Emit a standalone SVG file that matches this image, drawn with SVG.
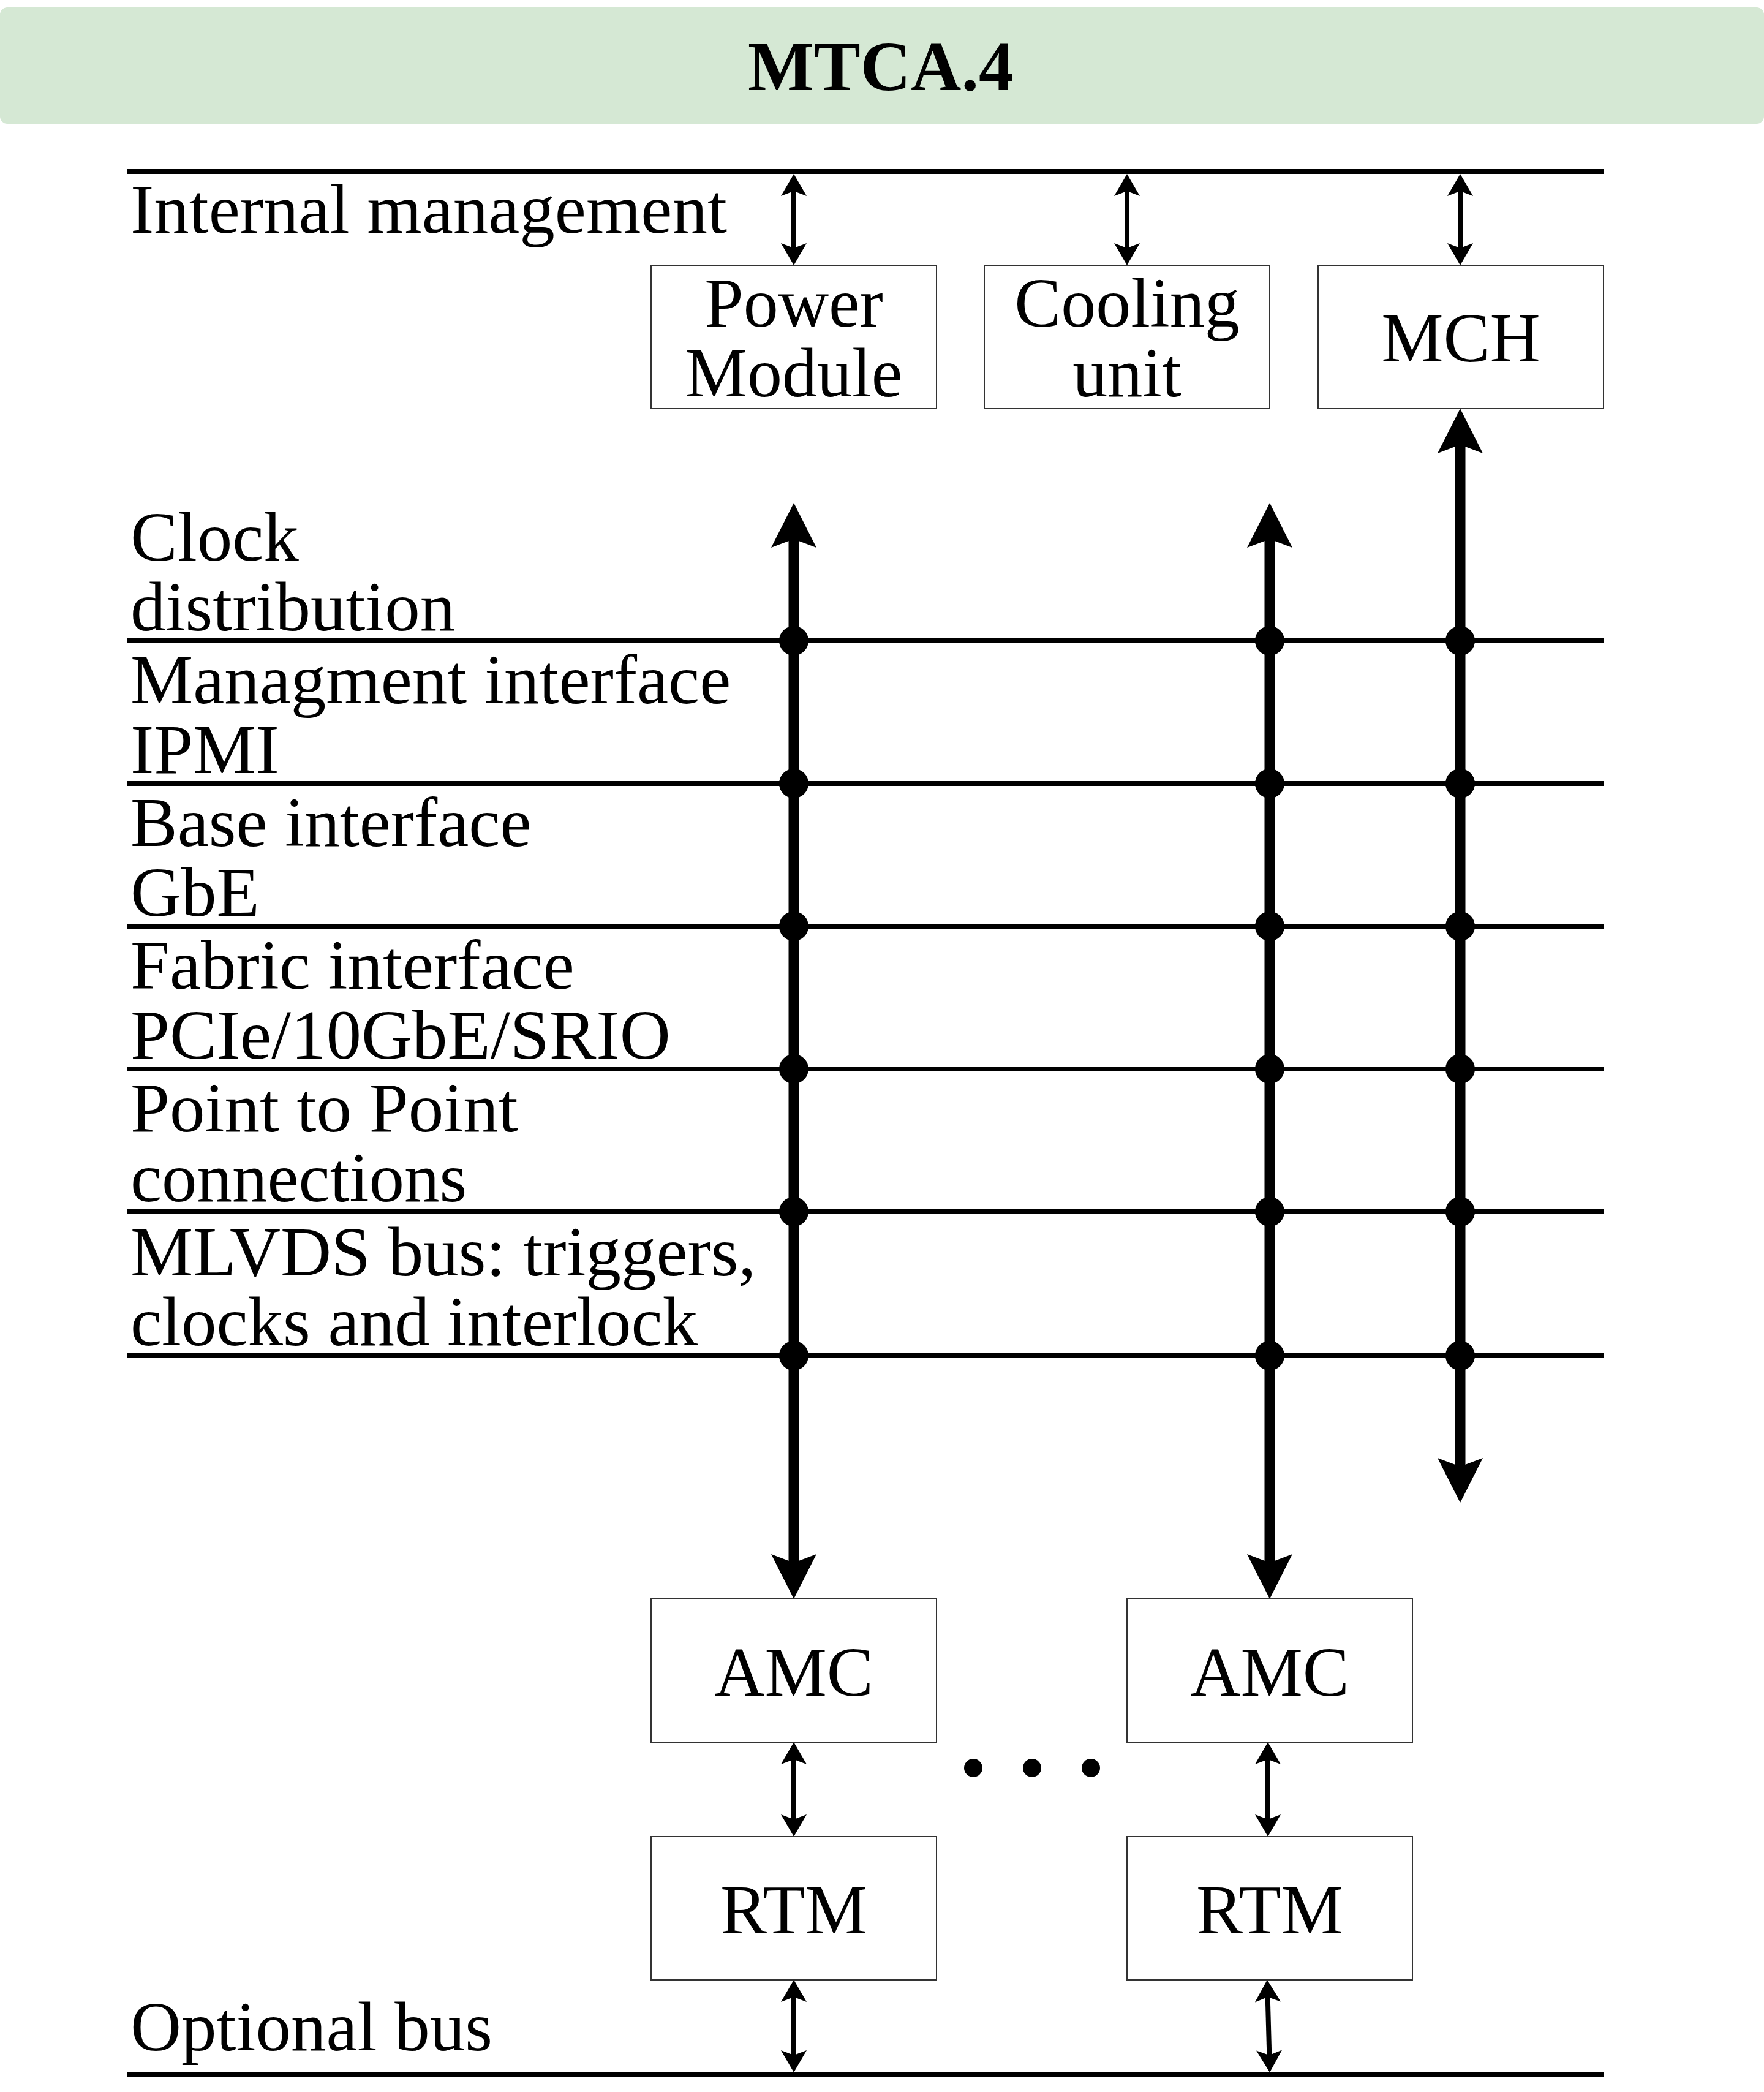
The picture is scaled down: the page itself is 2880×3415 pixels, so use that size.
<svg xmlns="http://www.w3.org/2000/svg" width="2880" height="3415" viewBox="0 0 2880 3415">
<defs>
<style>
text{font-family:"Liberation Serif","Times New Roman",serif;font-size:114px;fill:#000}
.lbl{font-size:115px}
.ctr{text-anchor:middle}
.box{fill:#fff;stroke:#333;stroke-width:2}
.bus{stroke:#000;stroke-width:8;fill:none}
.thin{stroke:#000;stroke-width:8;fill:none;marker-start:url(#ah);marker-end:url(#ah)}
.thick{stroke:#000;stroke-width:17;fill:none;marker-start:url(#ahT);marker-end:url(#ahT)}
.dot{fill:#000}
</style>
<marker id="ah" markerUnits="userSpaceOnUse" viewBox="-2 -22 40 44" markerWidth="40" markerHeight="44" refX="8" refY="0" orient="auto-start-reverse">
<path d="M0,-21 L36,0 L0,21 L8,0 Z" fill="#000"/>
</marker>
<marker id="ahT" markerUnits="userSpaceOnUse" viewBox="-2 -38 78 76" markerWidth="78" markerHeight="76" refX="14" refY="0" orient="auto-start-reverse">
<path d="M0,-37 L73,0 L0,37 L14,0 Z" fill="#000"/>
</marker>
</defs>
<rect width="2880" height="3415" fill="#fff"/>
<g id="header">
<rect x="0" y="12" width="2880" height="190" rx="12" ry="12" fill="#d5e8d4"/>
<text x="1438" y="147" class="ctr" font-weight="bold" style="font-size:114px">MTCA.4</text>
</g>
<g id="connectors">
<line class="bus" x1="208" y1="280" x2="2618" y2="280"/>
<line class="bus" x1="208" y1="1046" x2="2618" y2="1046"/>
<line class="bus" x1="208" y1="1279" x2="2618" y2="1279"/>
<line class="bus" x1="208" y1="1512" x2="2618" y2="1512"/>
<line class="bus" x1="208" y1="1745" x2="2618" y2="1745"/>
<line class="bus" x1="208" y1="1978" x2="2618" y2="1978"/>
<line class="bus" x1="208" y1="2213" x2="2618" y2="2213"/>
<line class="bus" x1="208" y1="3387" x2="2618" y2="3387"/>
<line class="thin" x1="1296" y1="312" x2="1296" y2="405"/>
<line class="thin" x1="1840" y1="312" x2="1840" y2="405"/>
<line class="thin" x1="2384" y1="312" x2="2384" y2="405"/>
<line class="thin" x1="1296" y1="2872" x2="1296" y2="2970"/>
<line class="thin" x1="2070" y1="2872" x2="2070" y2="2970"/>
<line class="thin" x1="1296" y1="3260" x2="1296" y2="3355"/>
<line class="thin" x1="2069.7" y1="3260" x2="2072.3" y2="3355"/>
<line class="thick" x1="1296" y1="880" x2="1296" y2="2551"/>
<line class="thick" x1="2073" y1="880" x2="2073" y2="2551"/>
<line class="thick" x1="2384" y1="726" x2="2384" y2="2394"/>
<g id="junctions">
<circle class="dot" cx="1296" cy="1046" r="24"/><circle class="dot" cx="2073" cy="1046" r="24"/><circle class="dot" cx="2384" cy="1046" r="24"/>
<circle class="dot" cx="1296" cy="1279" r="24"/><circle class="dot" cx="2073" cy="1279" r="24"/><circle class="dot" cx="2384" cy="1279" r="24"/>
<circle class="dot" cx="1296" cy="1512" r="24"/><circle class="dot" cx="2073" cy="1512" r="24"/><circle class="dot" cx="2384" cy="1512" r="24"/>
<circle class="dot" cx="1296" cy="1745" r="24"/><circle class="dot" cx="2073" cy="1745" r="24"/><circle class="dot" cx="2384" cy="1745" r="24"/>
<circle class="dot" cx="1296" cy="1978" r="24"/><circle class="dot" cx="2073" cy="1978" r="24"/><circle class="dot" cx="2384" cy="1978" r="24"/>
<circle class="dot" cx="1296" cy="2213" r="24"/><circle class="dot" cx="2073" cy="2213" r="24"/><circle class="dot" cx="2384" cy="2213" r="24"/>
</g>
</g>
<g id="labels" class="lbl">
<text class="lbl" x="213" y="380">Internal management</text>
<text class="lbl" x="213" y="915">Clock</text>
<text class="lbl" x="213" y="1029">distribution</text>
<text class="lbl" x="213" y="1148">Managment interface</text>
<text class="lbl" x="213" y="1262">IPMI</text>
<text class="lbl" x="213" y="1381">Base interface</text>
<text class="lbl" x="213" y="1495">GbE</text>
<text class="lbl" x="213" y="1614">Fabric interface</text>
<text class="lbl" x="213" y="1728">PCIe/10GbE/SRIO</text>
<text class="lbl" x="213" y="1847">Point to Point</text>
<text class="lbl" x="213" y="1961">connections</text>
<text class="lbl" x="213" y="2082">MLVDS bus: triggers,</text>
<text class="lbl" x="213" y="2196">clocks and interlock</text>
<text class="lbl" x="213" y="3347">Optional bus</text>
</g>
<g id="power-module">
<rect class="box" x="1063" y="433" width="466" height="234"/>
<text x="1296" y="533" class="ctr">Power</text>
<text x="1296" y="647" class="ctr">Module</text>
</g>
<g id="cooling-unit">
<rect class="box" x="1607" y="433" width="466" height="234"/>
<text x="1840" y="533" class="ctr">Cooling</text>
<text x="1840" y="647" class="ctr">unit</text>
</g>
<g id="mch">
<rect class="box" x="2152" y="433" width="466" height="234"/>
<text x="2385" y="590" class="ctr">MCH</text>
</g>
<g id="amc1">
<rect class="box" x="1063" y="2610" width="466" height="234"/>
<text x="1296" y="2768" class="ctr">AMC</text>
</g>
<g id="amc2">
<rect class="box" x="1840" y="2610" width="466" height="234"/>
<text x="2073" y="2768" class="ctr">AMC</text>
</g>
<g id="rtm1">
<rect class="box" x="1063" y="2998" width="466" height="234"/>
<text x="1296" y="3156" class="ctr">RTM</text>
</g>
<g id="rtm2">
<rect class="box" x="1840" y="2998" width="466" height="234"/>
<text x="2073" y="3156" class="ctr">RTM</text>
</g>
<g id="ellipsis">
<circle class="dot" cx="1589" cy="2886" r="15"/>
<circle class="dot" cx="1685" cy="2886" r="15"/>
<circle class="dot" cx="1781" cy="2886" r="15"/>
</g>
</svg>
